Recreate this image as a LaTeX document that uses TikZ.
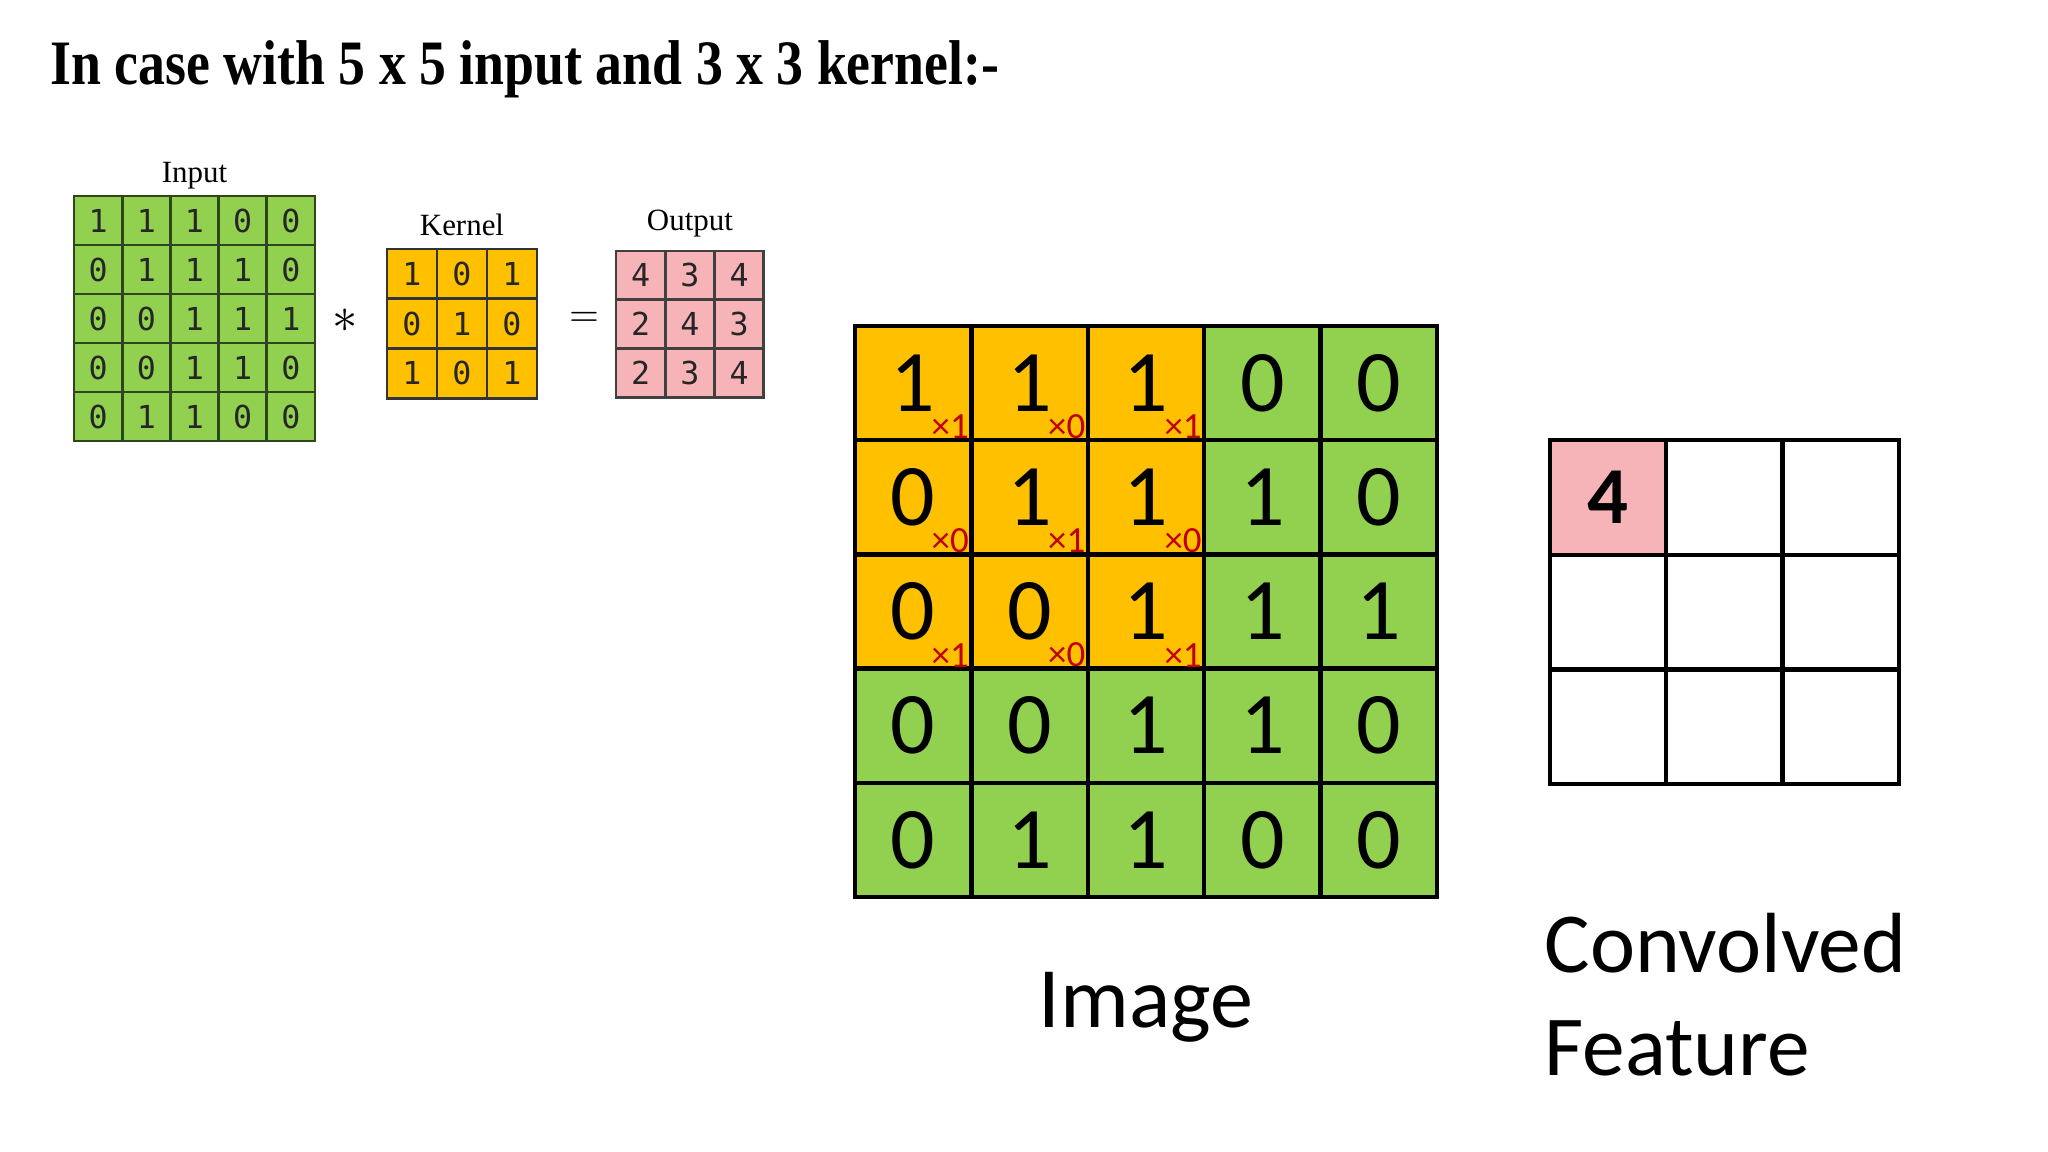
\documentclass[tikz,border=0pt]{standalone}
\usepackage{fontspec}
\setmainfont{Liberation Serif}
\newfontfamily\cellfont{Carlito}
\newfontfamily\smallfont{DejaVu Sans Mono}
\usepackage{tikz}
\usetikzlibrary{positioning}

\definecolor{cellgreen}{RGB}{146,208,80}
\definecolor{cellorange}{RGB}{255,192,0}
\definecolor{cellpink}{RGB}{247,180,184}
\definecolor{weightred}{RGB}{192,0,0}
\definecolor{smallline}{RGB}{45,70,30}

\begin{document}
\begin{tikzpicture}[x=1cm, y=-1cm, node distance=0.15cm,
    smallcell/.style={draw=smallline, line width=0.8pt, inner sep=0, text=black!85,
        font=\fontsize{9}{9}\smallfont},
    incell/.style={smallcell, fill=cellgreen, minimum width=0.482cm, minimum height=0.49cm},
    kcell/.style={smallcell, draw=black!80, fill=cellorange, minimum width=0.50cm, minimum height=0.497cm},
    outcell/.style={smallcell, draw=black!75, fill=cellpink, minimum width=0.493cm, minimum height=0.487cm},
    gridlabel/.style={inner sep=0, font=\fontsize{8.8}{9}\selectfont},
    bigcell/.style={draw, line width=1.2pt, inner sep=0, minimum width=1.164cm, minimum height=1.142cm,
        font=\fontsize{25}{25}\cellfont},
    featcell/.style={draw, line width=1.2pt, inner sep=0, minimum width=1.163cm, minimum height=1.147cm,
        font=\fontsize{23}{23}\cellfont\bfseries},
    weight/.style={inner sep=0, text=weightred, font=\fontsize{10.5}{10.5}\cellfont}]
    \useasboundingbox (0,0) rectangle (20.48,11.52);

    % title
    \node (title) [anchor=base west, inner sep=0] at (0.50,0.85)
        {\scalebox{0.85}[1]{\fontsize{18}{18}\selectfont\bfseries In case with 5 x 5 input and 3 x 3 kernel:-}};

    % input 5x5
    \foreach \row [count=\r] in {{1,1,1,0,0},{0,1,1,1,0},{0,0,1,1,1},{0,0,1,1,0},{0,1,1,0,0}} {
        \foreach \v [count=\c] in \row {
            \node (in-\r-\c) [incell] at ({0.74+0.482*(\c-0.5)},{1.96+0.49*(\r-0.5)}) {\v};
        }
    }
    \node (inlbl) [gridlabel, above=0.05cm of in-1-3] {Input};

    % kernel 3x3
    \foreach \row [count=\r] in {{1,0,1},{0,1,0},{1,0,1}} {
        \foreach \v [count=\c] in \row {
            \node (k-\r-\c) [kcell] at ({3.87+0.50*(\c-0.5)},{2.49+0.497*(\r-0.5)}) {\v};
        }
    }
    \node (klbl) [gridlabel, above=0.11cm of k-1-2] {Kernel};

    % output 3x3
    \foreach \row [count=\r] in {{4,3,4},{2,4,3},{2,3,4}} {
        \foreach \v [count=\c] in \row {
            \node (out-\r-\c) [outcell] at ({6.16+0.493*(\c-0.5)},{2.51+0.487*(\r-0.5)}) {\v};
        }
    }
    \node (outlbl) [gridlabel, above=0.12cm of out-1-2] {Output};

    \node (star) [inner sep=0, font=\fontsize{15}{15}\selectfont] at (3.45,3.21) {$\ast$};
    \node (eq) [inner sep=0, font=\fontsize{11}{11}\selectfont] at (5.84,3.19) {$=$};

    % image with the kernel on top-left
    \foreach \row [count=\r] in {{1,1,1,0,0},{0,1,1,1,0},{0,0,1,1,1},{0,0,1,1,0},{0,1,1,0,0}} {
        \foreach \v [count=\c] in \row {
            \def\imgfill{cellgreen}
            \ifnum\r<4 \ifnum\c<4 \def\imgfill{cellorange}\fi\fi
            \node (img-\r-\c) [bigcell, fill=\imgfill] at ({8.55+1.164*(\c-0.5)},{3.26+1.142*(\r-0.5)}) {\v};
        }
    }
    \foreach \row [count=\r] in {{1,0,1},{0,1,0},{1,0,1}} {
        \foreach \k [count=\c] in \row {
            \node (w-\r-\c) [weight, anchor=south east] at ([shift={(-0.04,-0.03)}]img-\r-\c.south east) {×\k};
        }
    }
    \node (imglbl) [inner sep=0, below=0.72cm of img-5-3, font=\fontsize{24.5}{25}\cellfont] {Image};

    % convolved feature
    \foreach \r in {1,2,3} {
        \foreach \c in {1,2,3} {
            \ifnum\r\c=11 \def\cfval{4}\def\cffill{cellpink}\else\def\cfval{}\def\cffill{white}\fi
            \node (cf-\r-\c) [featcell, fill=\cffill] at ({15.50+1.163*(\c-0.5)},{4.40+1.147*(\r-0.5)}) {\cfval};
        }
    }
    \node (cflbl) [inner sep=0, anchor=north west, align=left, font=\fontsize{24.3}{29.5}\cellfont]
        at (15.44,9.12) {Convolved\\Feature};
\end{tikzpicture}
\end{document}
